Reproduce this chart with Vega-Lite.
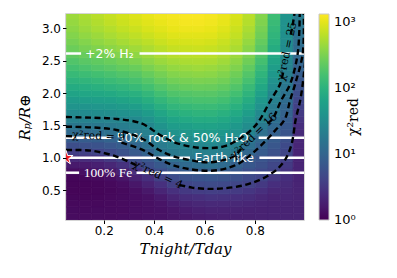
{
"$schema":"https://vega.github.io/schema/vega-lite/v6.json",
"width":238,"height":206,
"padding":{"left":17,"top":14,"right":2,"bottom":2},
"background":"white",
"config":{"view":{"stroke":"#c8c8c8","strokeWidth":1.5},"font":"DejaVu Sans",
"axis":{"domain":false,"grid":false,"tickColor":"black","tickSize":3.5,"tickWidth":1,"labelFont":"DejaVu Sans","labelFontSize":12,"labelColor":"black","labelPadding":2,"titleFont":"DejaVu Serif","titleFontSize":15,"titleFontWeight":"normal","titleFontStyle":"italic","titleColor":"black"},
"axisY":{"titlePadding":9},"axisX":{"titlePadding":5}},
"layer":[
{"data":{"values":[
{"x":0.075,"y":0,"L":0.11},{"x":0.075,"y":0.1,"L":0.09},{"x":0.075,"y":0.2,"L":0.08},{"x":0.075,"y":0.3,"L":0.06},{"x":0.075,"y":0.4,"L":0.05},{"x":0.075,"y":0.5,"L":0.03},{"x":0.075,"y":0.6,"L":0.03},{"x":0.075,"y":0.7,"L":0.04},{"x":0.075,"y":0.8,"L":0.10},{"x":0.075,"y":0.9,"L":0.21},{"x":0.075,"y":1,"L":0.36},{"x":0.075,"y":1.1,"L":0.56},{"x":0.075,"y":1.2,"L":0.73},{"x":0.075,"y":1.3,"L":0.90},{"x":0.075,"y":1.4,"L":1.07},{"x":0.075,"y":1.5,"L":1.23},{"x":0.075,"y":1.6,"L":1.36},{"x":0.075,"y":1.7,"L":1.48},{"x":0.075,"y":1.8,"L":1.60},{"x":0.075,"y":1.9,"L":1.70},{"x":0.075,"y":2,"L":1.81},{"x":0.075,"y":2.1,"L":1.91},{"x":0.075,"y":2.2,"L":2.01},{"x":0.075,"y":2.3,"L":2.10},{"x":0.075,"y":2.4,"L":2.19},{"x":0.075,"y":2.5,"L":2.27},{"x":0.075,"y":2.6,"L":2.35},{"x":0.075,"y":2.7,"L":2.42},{"x":0.075,"y":2.8,"L":2.48},{"x":0.075,"y":2.9,"L":2.54},{"x":0.075,"y":3,"L":2.59},{"x":0.075,"y":3.1,"L":2.63},{"x":0.075,"y":3.2,"L":2.66},
{"x":0.125,"y":0,"L":0.10},{"x":0.125,"y":0.1,"L":0.09},{"x":0.125,"y":0.2,"L":0.07},{"x":0.125,"y":0.3,"L":0.06},{"x":0.125,"y":0.4,"L":0.04},{"x":0.125,"y":0.5,"L":0.03},{"x":0.125,"y":0.6,"L":0.03},{"x":0.125,"y":0.7,"L":0.05},{"x":0.125,"y":0.8,"L":0.11},{"x":0.125,"y":0.9,"L":0.22},{"x":0.125,"y":1,"L":0.38},{"x":0.125,"y":1.1,"L":0.58},{"x":0.125,"y":1.2,"L":0.75},{"x":0.125,"y":1.3,"L":0.91},{"x":0.125,"y":1.4,"L":1.08},{"x":0.125,"y":1.5,"L":1.23},{"x":0.125,"y":1.6,"L":1.37},{"x":0.125,"y":1.7,"L":1.49},{"x":0.125,"y":1.8,"L":1.61},{"x":0.125,"y":1.9,"L":1.73},{"x":0.125,"y":2,"L":1.84},{"x":0.125,"y":2.1,"L":1.94},{"x":0.125,"y":2.2,"L":2.04},{"x":0.125,"y":2.3,"L":2.14},{"x":0.125,"y":2.4,"L":2.23},{"x":0.125,"y":2.5,"L":2.32},{"x":0.125,"y":2.6,"L":2.40},{"x":0.125,"y":2.7,"L":2.48},{"x":0.125,"y":2.8,"L":2.54},{"x":0.125,"y":2.9,"L":2.61},{"x":0.125,"y":3,"L":2.66},{"x":0.125,"y":3.1,"L":2.70},{"x":0.125,"y":3.2,"L":2.73},
{"x":0.175,"y":0,"L":0.10},{"x":0.175,"y":0.1,"L":0.09},{"x":0.175,"y":0.2,"L":0.08},{"x":0.175,"y":0.3,"L":0.06},{"x":0.175,"y":0.4,"L":0.05},{"x":0.175,"y":0.5,"L":0.04},{"x":0.175,"y":0.6,"L":0.04},{"x":0.175,"y":0.7,"L":0.07},{"x":0.175,"y":0.8,"L":0.14},{"x":0.175,"y":0.9,"L":0.26},{"x":0.175,"y":1,"L":0.42},{"x":0.175,"y":1.1,"L":0.62},{"x":0.175,"y":1.2,"L":0.78},{"x":0.175,"y":1.3,"L":0.93},{"x":0.175,"y":1.4,"L":1.10},{"x":0.175,"y":1.5,"L":1.25},{"x":0.175,"y":1.6,"L":1.38},{"x":0.175,"y":1.7,"L":1.51},{"x":0.175,"y":1.8,"L":1.63},{"x":0.175,"y":1.9,"L":1.75},{"x":0.175,"y":2,"L":1.86},{"x":0.175,"y":2.1,"L":1.97},{"x":0.175,"y":2.2,"L":2.08},{"x":0.175,"y":2.3,"L":2.18},{"x":0.175,"y":2.4,"L":2.28},{"x":0.175,"y":2.5,"L":2.36},{"x":0.175,"y":2.6,"L":2.45},{"x":0.175,"y":2.7,"L":2.53},{"x":0.175,"y":2.8,"L":2.60},{"x":0.175,"y":2.9,"L":2.66},{"x":0.175,"y":3,"L":2.72},{"x":0.175,"y":3.1,"L":2.76},{"x":0.175,"y":3.2,"L":2.79},
{"x":0.225,"y":0,"L":0.10},{"x":0.225,"y":0.1,"L":0.09},{"x":0.225,"y":0.2,"L":0.08},{"x":0.225,"y":0.3,"L":0.07},{"x":0.225,"y":0.4,"L":0.06},{"x":0.225,"y":0.5,"L":0.05},{"x":0.225,"y":0.6,"L":0.06},{"x":0.225,"y":0.7,"L":0.10},{"x":0.225,"y":0.8,"L":0.19},{"x":0.225,"y":0.9,"L":0.33},{"x":0.225,"y":1,"L":0.51},{"x":0.225,"y":1.1,"L":0.68},{"x":0.225,"y":1.2,"L":0.84},{"x":0.225,"y":1.3,"L":0.99},{"x":0.225,"y":1.4,"L":1.14},{"x":0.225,"y":1.5,"L":1.27},{"x":0.225,"y":1.6,"L":1.39},{"x":0.225,"y":1.7,"L":1.52},{"x":0.225,"y":1.8,"L":1.65},{"x":0.225,"y":1.9,"L":1.77},{"x":0.225,"y":2,"L":1.89},{"x":0.225,"y":2.1,"L":2.01},{"x":0.225,"y":2.2,"L":2.12},{"x":0.225,"y":2.3,"L":2.22},{"x":0.225,"y":2.4,"L":2.32},{"x":0.225,"y":2.5,"L":2.41},{"x":0.225,"y":2.6,"L":2.50},{"x":0.225,"y":2.7,"L":2.58},{"x":0.225,"y":2.8,"L":2.65},{"x":0.225,"y":2.9,"L":2.72},{"x":0.225,"y":3,"L":2.77},{"x":0.225,"y":3.1,"L":2.82},{"x":0.225,"y":3.2,"L":2.85},
{"x":0.275,"y":0,"L":0.11},{"x":0.275,"y":0.1,"L":0.10},{"x":0.275,"y":0.2,"L":0.09},{"x":0.275,"y":0.3,"L":0.09},{"x":0.275,"y":0.4,"L":0.08},{"x":0.275,"y":0.5,"L":0.07},{"x":0.275,"y":0.6,"L":0.10},{"x":0.275,"y":0.7,"L":0.17},{"x":0.275,"y":0.8,"L":0.29},{"x":0.275,"y":0.9,"L":0.44},{"x":0.275,"y":1,"L":0.63},{"x":0.275,"y":1.1,"L":0.77},{"x":0.275,"y":1.2,"L":0.91},{"x":0.275,"y":1.3,"L":1.05},{"x":0.275,"y":1.4,"L":1.20},{"x":0.275,"y":1.5,"L":1.31},{"x":0.275,"y":1.6,"L":1.43},{"x":0.275,"y":1.7,"L":1.56},{"x":0.275,"y":1.8,"L":1.69},{"x":0.275,"y":1.9,"L":1.81},{"x":0.275,"y":2,"L":1.94},{"x":0.275,"y":2.1,"L":2.05},{"x":0.275,"y":2.2,"L":2.16},{"x":0.275,"y":2.3,"L":2.27},{"x":0.275,"y":2.4,"L":2.37},{"x":0.275,"y":2.5,"L":2.46},{"x":0.275,"y":2.6,"L":2.55},{"x":0.275,"y":2.7,"L":2.63},{"x":0.275,"y":2.8,"L":2.71},{"x":0.275,"y":2.9,"L":2.77},{"x":0.275,"y":3,"L":2.83},{"x":0.275,"y":3.1,"L":2.88},{"x":0.275,"y":3.2,"L":2.91},
{"x":0.325,"y":0,"L":0.12},{"x":0.325,"y":0.1,"L":0.11},{"x":0.325,"y":0.2,"L":0.11},{"x":0.325,"y":0.3,"L":0.10},{"x":0.325,"y":0.4,"L":0.10},{"x":0.325,"y":0.5,"L":0.11},{"x":0.325,"y":0.6,"L":0.18},{"x":0.325,"y":0.7,"L":0.29},{"x":0.325,"y":0.8,"L":0.43},{"x":0.325,"y":0.9,"L":0.61},{"x":0.325,"y":1,"L":0.74},{"x":0.325,"y":1.1,"L":0.87},{"x":0.325,"y":1.2,"L":1.01},{"x":0.325,"y":1.3,"L":1.16},{"x":0.325,"y":1.4,"L":1.26},{"x":0.325,"y":1.5,"L":1.35},{"x":0.325,"y":1.6,"L":1.47},{"x":0.325,"y":1.7,"L":1.60},{"x":0.325,"y":1.8,"L":1.73},{"x":0.325,"y":1.9,"L":1.86},{"x":0.325,"y":2,"L":1.98},{"x":0.325,"y":2.1,"L":2.10},{"x":0.325,"y":2.2,"L":2.21},{"x":0.325,"y":2.3,"L":2.31},{"x":0.325,"y":2.4,"L":2.41},{"x":0.325,"y":2.5,"L":2.51},{"x":0.325,"y":2.6,"L":2.60},{"x":0.325,"y":2.7,"L":2.68},{"x":0.325,"y":2.8,"L":2.76},{"x":0.325,"y":2.9,"L":2.82},{"x":0.325,"y":3,"L":2.88},{"x":0.325,"y":3.1,"L":2.93},{"x":0.325,"y":3.2,"L":2.96},
{"x":0.375,"y":0,"L":0.13},{"x":0.375,"y":0.1,"L":0.13},{"x":0.375,"y":0.2,"L":0.12},{"x":0.375,"y":0.3,"L":0.12},{"x":0.375,"y":0.4,"L":0.13},{"x":0.375,"y":0.5,"L":0.19},{"x":0.375,"y":0.6,"L":0.29},{"x":0.375,"y":0.7,"L":0.42},{"x":0.375,"y":0.8,"L":0.60},{"x":0.375,"y":0.9,"L":0.73},{"x":0.375,"y":1,"L":0.85},{"x":0.375,"y":1.1,"L":0.98},{"x":0.375,"y":1.2,"L":1.14},{"x":0.375,"y":1.3,"L":1.26},{"x":0.375,"y":1.4,"L":1.34},{"x":0.375,"y":1.5,"L":1.44},{"x":0.375,"y":1.6,"L":1.57},{"x":0.375,"y":1.7,"L":1.70},{"x":0.375,"y":1.8,"L":1.83},{"x":0.375,"y":1.9,"L":1.95},{"x":0.375,"y":2,"L":2.07},{"x":0.375,"y":2.1,"L":2.18},{"x":0.375,"y":2.2,"L":2.29},{"x":0.375,"y":2.3,"L":2.39},{"x":0.375,"y":2.4,"L":2.49},{"x":0.375,"y":2.5,"L":2.58},{"x":0.375,"y":2.6,"L":2.66},{"x":0.375,"y":2.7,"L":2.74},{"x":0.375,"y":2.8,"L":2.81},{"x":0.375,"y":2.9,"L":2.88},{"x":0.375,"y":3,"L":2.94},{"x":0.375,"y":3.1,"L":2.98},{"x":0.375,"y":3.2,"L":3.01},
{"x":0.425,"y":0,"L":0.14},{"x":0.425,"y":0.1,"L":0.14},{"x":0.425,"y":0.2,"L":0.14},{"x":0.425,"y":0.3,"L":0.16},{"x":0.425,"y":0.4,"L":0.21},{"x":0.425,"y":0.5,"L":0.31},{"x":0.425,"y":0.6,"L":0.43},{"x":0.425,"y":0.7,"L":0.60},{"x":0.425,"y":0.8,"L":0.73},{"x":0.425,"y":0.9,"L":0.86},{"x":0.425,"y":1,"L":1.00},{"x":0.425,"y":1.1,"L":1.18},{"x":0.425,"y":1.2,"L":1.28},{"x":0.425,"y":1.3,"L":1.36},{"x":0.425,"y":1.4,"L":1.46},{"x":0.425,"y":1.5,"L":1.59},{"x":0.425,"y":1.6,"L":1.72},{"x":0.425,"y":1.7,"L":1.83},{"x":0.425,"y":1.8,"L":1.95},{"x":0.425,"y":1.9,"L":2.06},{"x":0.425,"y":2,"L":2.17},{"x":0.425,"y":2.1,"L":2.28},{"x":0.425,"y":2.2,"L":2.38},{"x":0.425,"y":2.3,"L":2.47},{"x":0.425,"y":2.4,"L":2.56},{"x":0.425,"y":2.5,"L":2.65},{"x":0.425,"y":2.6,"L":2.73},{"x":0.425,"y":2.7,"L":2.80},{"x":0.425,"y":2.8,"L":2.87},{"x":0.425,"y":2.9,"L":2.93},{"x":0.425,"y":3,"L":2.98},{"x":0.425,"y":3.1,"L":3.02},{"x":0.425,"y":3.2,"L":3.05},
{"x":0.475,"y":0,"L":0.17},{"x":0.475,"y":0.1,"L":0.17},{"x":0.475,"y":0.2,"L":0.18},{"x":0.475,"y":0.3,"L":0.23},{"x":0.475,"y":0.4,"L":0.31},{"x":0.475,"y":0.5,"L":0.43},{"x":0.475,"y":0.6,"L":0.58},{"x":0.475,"y":0.7,"L":0.71},{"x":0.475,"y":0.8,"L":0.84},{"x":0.475,"y":0.9,"L":0.97},{"x":0.475,"y":1,"L":1.15},{"x":0.475,"y":1.1,"L":1.26},{"x":0.475,"y":1.2,"L":1.35},{"x":0.475,"y":1.3,"L":1.46},{"x":0.475,"y":1.4,"L":1.59},{"x":0.475,"y":1.5,"L":1.71},{"x":0.475,"y":1.6,"L":1.82},{"x":0.475,"y":1.7,"L":1.94},{"x":0.475,"y":1.8,"L":2.05},{"x":0.475,"y":1.9,"L":2.15},{"x":0.475,"y":2,"L":2.26},{"x":0.475,"y":2.1,"L":2.35},{"x":0.475,"y":2.2,"L":2.45},{"x":0.475,"y":2.3,"L":2.54},{"x":0.475,"y":2.4,"L":2.62},{"x":0.475,"y":2.5,"L":2.70},{"x":0.475,"y":2.6,"L":2.78},{"x":0.475,"y":2.7,"L":2.85},{"x":0.475,"y":2.8,"L":2.91},{"x":0.475,"y":2.9,"L":2.97},{"x":0.475,"y":3,"L":3.02},{"x":0.475,"y":3.1,"L":3.05},{"x":0.475,"y":3.2,"L":3.08},
{"x":0.525,"y":0,"L":0.20},{"x":0.525,"y":0.1,"L":0.20},{"x":0.525,"y":0.2,"L":0.23},{"x":0.525,"y":0.3,"L":0.29},{"x":0.525,"y":0.4,"L":0.39},{"x":0.525,"y":0.5,"L":0.51},{"x":0.525,"y":0.6,"L":0.65},{"x":0.525,"y":0.7,"L":0.78},{"x":0.525,"y":0.8,"L":0.90},{"x":0.525,"y":0.9,"L":1.06},{"x":0.525,"y":1,"L":1.22},{"x":0.525,"y":1.1,"L":1.31},{"x":0.525,"y":1.2,"L":1.40},{"x":0.525,"y":1.3,"L":1.52},{"x":0.525,"y":1.4,"L":1.64},{"x":0.525,"y":1.5,"L":1.76},{"x":0.525,"y":1.6,"L":1.88},{"x":0.525,"y":1.7,"L":1.99},{"x":0.525,"y":1.8,"L":2.09},{"x":0.525,"y":1.9,"L":2.20},{"x":0.525,"y":2,"L":2.29},{"x":0.525,"y":2.1,"L":2.39},{"x":0.525,"y":2.2,"L":2.48},{"x":0.525,"y":2.3,"L":2.57},{"x":0.525,"y":2.4,"L":2.65},{"x":0.525,"y":2.5,"L":2.73},{"x":0.525,"y":2.6,"L":2.80},{"x":0.525,"y":2.7,"L":2.87},{"x":0.525,"y":2.8,"L":2.93},{"x":0.525,"y":2.9,"L":2.99},{"x":0.525,"y":3,"L":3.04},{"x":0.525,"y":3.1,"L":3.08},{"x":0.525,"y":3.2,"L":3.10},
{"x":0.575,"y":0,"L":0.22},{"x":0.575,"y":0.1,"L":0.23},{"x":0.575,"y":0.2,"L":0.26},{"x":0.575,"y":0.3,"L":0.33},{"x":0.575,"y":0.4,"L":0.42},{"x":0.575,"y":0.5,"L":0.55},{"x":0.575,"y":0.6,"L":0.68},{"x":0.575,"y":0.7,"L":0.81},{"x":0.575,"y":0.8,"L":0.93},{"x":0.575,"y":0.9,"L":1.11},{"x":0.575,"y":1,"L":1.25},{"x":0.575,"y":1.1,"L":1.34},{"x":0.575,"y":1.2,"L":1.44},{"x":0.575,"y":1.3,"L":1.56},{"x":0.575,"y":1.4,"L":1.68},{"x":0.575,"y":1.5,"L":1.80},{"x":0.575,"y":1.6,"L":1.91},{"x":0.575,"y":1.7,"L":2.02},{"x":0.575,"y":1.8,"L":2.12},{"x":0.575,"y":1.9,"L":2.22},{"x":0.575,"y":2,"L":2.31},{"x":0.575,"y":2.1,"L":2.41},{"x":0.575,"y":2.2,"L":2.50},{"x":0.575,"y":2.3,"L":2.59},{"x":0.575,"y":2.4,"L":2.67},{"x":0.575,"y":2.5,"L":2.74},{"x":0.575,"y":2.6,"L":2.81},{"x":0.575,"y":2.7,"L":2.88},{"x":0.575,"y":2.8,"L":2.94},{"x":0.575,"y":2.9,"L":2.99},{"x":0.575,"y":3,"L":3.04},{"x":0.575,"y":3.1,"L":3.08},{"x":0.575,"y":3.2,"L":3.10},
{"x":0.625,"y":0,"L":0.24},{"x":0.625,"y":0.1,"L":0.25},{"x":0.625,"y":0.2,"L":0.29},{"x":0.625,"y":0.3,"L":0.35},{"x":0.625,"y":0.4,"L":0.45},{"x":0.625,"y":0.5,"L":0.57},{"x":0.625,"y":0.6,"L":0.70},{"x":0.625,"y":0.7,"L":0.83},{"x":0.625,"y":0.8,"L":0.95},{"x":0.625,"y":0.9,"L":1.14},{"x":0.625,"y":1,"L":1.26},{"x":0.625,"y":1.1,"L":1.35},{"x":0.625,"y":1.2,"L":1.46},{"x":0.625,"y":1.3,"L":1.58},{"x":0.625,"y":1.4,"L":1.69},{"x":0.625,"y":1.5,"L":1.80},{"x":0.625,"y":1.6,"L":1.91},{"x":0.625,"y":1.7,"L":2.02},{"x":0.625,"y":1.8,"L":2.12},{"x":0.625,"y":1.9,"L":2.22},{"x":0.625,"y":2,"L":2.31},{"x":0.625,"y":2.1,"L":2.40},{"x":0.625,"y":2.2,"L":2.49},{"x":0.625,"y":2.3,"L":2.58},{"x":0.625,"y":2.4,"L":2.65},{"x":0.625,"y":2.5,"L":2.73},{"x":0.625,"y":2.6,"L":2.80},{"x":0.625,"y":2.7,"L":2.86},{"x":0.625,"y":2.8,"L":2.92},{"x":0.625,"y":2.9,"L":2.98},{"x":0.625,"y":3,"L":3.02},{"x":0.625,"y":3.1,"L":3.06},{"x":0.625,"y":3.2,"L":3.08},
{"x":0.675,"y":0,"L":0.25},{"x":0.675,"y":0.1,"L":0.26},{"x":0.675,"y":0.2,"L":0.29},{"x":0.675,"y":0.3,"L":0.35},{"x":0.675,"y":0.4,"L":0.44},{"x":0.675,"y":0.5,"L":0.56},{"x":0.675,"y":0.6,"L":0.68},{"x":0.675,"y":0.7,"L":0.80},{"x":0.675,"y":0.8,"L":0.92},{"x":0.675,"y":0.9,"L":1.08},{"x":0.675,"y":1,"L":1.24},{"x":0.675,"y":1.1,"L":1.33},{"x":0.675,"y":1.2,"L":1.42},{"x":0.675,"y":1.3,"L":1.54},{"x":0.675,"y":1.4,"L":1.65},{"x":0.675,"y":1.5,"L":1.77},{"x":0.675,"y":1.6,"L":1.87},{"x":0.675,"y":1.7,"L":1.98},{"x":0.675,"y":1.8,"L":2.08},{"x":0.675,"y":1.9,"L":2.18},{"x":0.675,"y":2,"L":2.27},{"x":0.675,"y":2.1,"L":2.36},{"x":0.675,"y":2.2,"L":2.45},{"x":0.675,"y":2.3,"L":2.53},{"x":0.675,"y":2.4,"L":2.61},{"x":0.675,"y":2.5,"L":2.68},{"x":0.675,"y":2.6,"L":2.75},{"x":0.675,"y":2.7,"L":2.82},{"x":0.675,"y":2.8,"L":2.87},{"x":0.675,"y":2.9,"L":2.93},{"x":0.675,"y":3,"L":2.97},{"x":0.675,"y":3.1,"L":3.01},{"x":0.675,"y":3.2,"L":3.03},
{"x":0.725,"y":0,"L":0.26},{"x":0.725,"y":0.1,"L":0.26},{"x":0.725,"y":0.2,"L":0.29},{"x":0.725,"y":0.3,"L":0.34},{"x":0.725,"y":0.4,"L":0.42},{"x":0.725,"y":0.5,"L":0.53},{"x":0.725,"y":0.6,"L":0.64},{"x":0.725,"y":0.7,"L":0.75},{"x":0.725,"y":0.8,"L":0.85},{"x":0.725,"y":0.9,"L":0.95},{"x":0.725,"y":1,"L":1.12},{"x":0.725,"y":1.1,"L":1.25},{"x":0.725,"y":1.2,"L":1.34},{"x":0.725,"y":1.3,"L":1.45},{"x":0.725,"y":1.4,"L":1.56},{"x":0.725,"y":1.5,"L":1.67},{"x":0.725,"y":1.6,"L":1.78},{"x":0.725,"y":1.7,"L":1.88},{"x":0.725,"y":1.8,"L":1.98},{"x":0.725,"y":1.9,"L":2.08},{"x":0.725,"y":2,"L":2.18},{"x":0.725,"y":2.1,"L":2.27},{"x":0.725,"y":2.2,"L":2.36},{"x":0.725,"y":2.3,"L":2.44},{"x":0.725,"y":2.4,"L":2.52},{"x":0.725,"y":2.5,"L":2.59},{"x":0.725,"y":2.6,"L":2.66},{"x":0.725,"y":2.7,"L":2.73},{"x":0.725,"y":2.8,"L":2.78},{"x":0.725,"y":2.9,"L":2.84},{"x":0.725,"y":3,"L":2.88},{"x":0.725,"y":3.1,"L":2.92},{"x":0.725,"y":3.2,"L":2.94},
{"x":0.775,"y":0,"L":0.27},{"x":0.775,"y":0.1,"L":0.27},{"x":0.775,"y":0.2,"L":0.28},{"x":0.775,"y":0.3,"L":0.32},{"x":0.775,"y":0.4,"L":0.39},{"x":0.775,"y":0.5,"L":0.48},{"x":0.775,"y":0.6,"L":0.60},{"x":0.775,"y":0.7,"L":0.68},{"x":0.775,"y":0.8,"L":0.76},{"x":0.775,"y":0.9,"L":0.85},{"x":0.775,"y":1,"L":0.93},{"x":0.775,"y":1.1,"L":1.03},{"x":0.775,"y":1.2,"L":1.14},{"x":0.775,"y":1.3,"L":1.26},{"x":0.775,"y":1.4,"L":1.40},{"x":0.775,"y":1.5,"L":1.51},{"x":0.775,"y":1.6,"L":1.62},{"x":0.775,"y":1.7,"L":1.73},{"x":0.775,"y":1.8,"L":1.83},{"x":0.775,"y":1.9,"L":1.93},{"x":0.775,"y":2,"L":2.02},{"x":0.775,"y":2.1,"L":2.11},{"x":0.775,"y":2.2,"L":2.20},{"x":0.775,"y":2.3,"L":2.28},{"x":0.775,"y":2.4,"L":2.36},{"x":0.775,"y":2.5,"L":2.44},{"x":0.775,"y":2.6,"L":2.51},{"x":0.775,"y":2.7,"L":2.57},{"x":0.775,"y":2.8,"L":2.63},{"x":0.775,"y":2.9,"L":2.69},{"x":0.775,"y":3,"L":2.73},{"x":0.775,"y":3.1,"L":2.77},{"x":0.775,"y":3.2,"L":2.79},
{"x":0.825,"y":0,"L":0.28},{"x":0.825,"y":0.1,"L":0.28},{"x":0.825,"y":0.2,"L":0.28},{"x":0.825,"y":0.3,"L":0.30},{"x":0.825,"y":0.4,"L":0.34},{"x":0.825,"y":0.5,"L":0.42},{"x":0.825,"y":0.6,"L":0.51},{"x":0.825,"y":0.7,"L":0.62},{"x":0.825,"y":0.8,"L":0.68},{"x":0.825,"y":0.9,"L":0.75},{"x":0.825,"y":1,"L":0.82},{"x":0.825,"y":1.1,"L":0.89},{"x":0.825,"y":1.2,"L":0.95},{"x":0.825,"y":1.3,"L":1.05},{"x":0.825,"y":1.4,"L":1.15},{"x":0.825,"y":1.5,"L":1.26},{"x":0.825,"y":1.6,"L":1.37},{"x":0.825,"y":1.7,"L":1.47},{"x":0.825,"y":1.8,"L":1.58},{"x":0.825,"y":1.9,"L":1.67},{"x":0.825,"y":2,"L":1.77},{"x":0.825,"y":2.1,"L":1.86},{"x":0.825,"y":2.2,"L":1.95},{"x":0.825,"y":2.3,"L":2.03},{"x":0.825,"y":2.4,"L":2.11},{"x":0.825,"y":2.5,"L":2.19},{"x":0.825,"y":2.6,"L":2.26},{"x":0.825,"y":2.7,"L":2.32},{"x":0.825,"y":2.8,"L":2.38},{"x":0.825,"y":2.9,"L":2.44},{"x":0.825,"y":3,"L":2.48},{"x":0.825,"y":3.1,"L":2.52},{"x":0.825,"y":3.2,"L":2.54},
{"x":0.875,"y":0,"L":0.29},{"x":0.875,"y":0.1,"L":0.29},{"x":0.875,"y":0.2,"L":0.29},{"x":0.875,"y":0.3,"L":0.29},{"x":0.875,"y":0.4,"L":0.30},{"x":0.875,"y":0.5,"L":0.34},{"x":0.875,"y":0.6,"L":0.41},{"x":0.875,"y":0.7,"L":0.50},{"x":0.875,"y":0.8,"L":0.61},{"x":0.875,"y":0.9,"L":0.66},{"x":0.875,"y":1,"L":0.72},{"x":0.875,"y":1.1,"L":0.78},{"x":0.875,"y":1.2,"L":0.84},{"x":0.875,"y":1.3,"L":0.89},{"x":0.875,"y":1.4,"L":0.95},{"x":0.875,"y":1.5,"L":1.05},{"x":0.875,"y":1.6,"L":1.14},{"x":0.875,"y":1.7,"L":1.22},{"x":0.875,"y":1.8,"L":1.28},{"x":0.875,"y":1.9,"L":1.35},{"x":0.875,"y":2,"L":1.41},{"x":0.875,"y":2.1,"L":1.50},{"x":0.875,"y":2.2,"L":1.58},{"x":0.875,"y":2.3,"L":1.66},{"x":0.875,"y":2.4,"L":1.73},{"x":0.875,"y":2.5,"L":1.81},{"x":0.875,"y":2.6,"L":1.87},{"x":0.875,"y":2.7,"L":1.93},{"x":0.875,"y":2.8,"L":1.99},{"x":0.875,"y":2.9,"L":2.04},{"x":0.875,"y":3,"L":2.08},{"x":0.875,"y":3.1,"L":2.12},{"x":0.875,"y":3.2,"L":2.14},
{"x":0.925,"y":0,"L":0.30},{"x":0.925,"y":0.1,"L":0.30},{"x":0.925,"y":0.2,"L":0.30},{"x":0.925,"y":0.3,"L":0.30},{"x":0.925,"y":0.4,"L":0.32},{"x":0.925,"y":0.5,"L":0.34},{"x":0.925,"y":0.6,"L":0.37},{"x":0.925,"y":0.7,"L":0.41},{"x":0.925,"y":0.8,"L":0.46},{"x":0.925,"y":0.9,"L":0.52},{"x":0.925,"y":1,"L":0.59},{"x":0.925,"y":1.1,"L":0.64},{"x":0.925,"y":1.2,"L":0.69},{"x":0.925,"y":1.3,"L":0.75},{"x":0.925,"y":1.4,"L":0.80},{"x":0.925,"y":1.5,"L":0.85},{"x":0.925,"y":1.6,"L":0.90},{"x":0.925,"y":1.7,"L":0.96},{"x":0.925,"y":1.8,"L":1.02},{"x":0.925,"y":1.9,"L":1.09},{"x":0.925,"y":2,"L":1.16},{"x":0.925,"y":2.1,"L":1.22},{"x":0.925,"y":2.2,"L":1.27},{"x":0.925,"y":2.3,"L":1.32},{"x":0.925,"y":2.4,"L":1.37},{"x":0.925,"y":2.5,"L":1.42},{"x":0.925,"y":2.6,"L":1.45},{"x":0.925,"y":2.7,"L":1.49},{"x":0.925,"y":2.8,"L":1.52},{"x":0.925,"y":2.9,"L":1.54},{"x":0.925,"y":3,"L":1.57},{"x":0.925,"y":3.1,"L":1.58},{"x":0.925,"y":3.2,"L":1.60},
{"x":0.975,"y":0,"L":0.30},{"x":0.975,"y":0.1,"L":0.30},{"x":0.975,"y":0.2,"L":0.30},{"x":0.975,"y":0.3,"L":0.30},{"x":0.975,"y":0.4,"L":0.30},{"x":0.975,"y":0.5,"L":0.30},{"x":0.975,"y":0.6,"L":0.30},{"x":0.975,"y":0.7,"L":0.30},{"x":0.975,"y":0.8,"L":0.30},{"x":0.975,"y":0.9,"L":0.30},{"x":0.975,"y":1,"L":0.30},{"x":0.975,"y":1.1,"L":0.30},{"x":0.975,"y":1.2,"L":0.32},{"x":0.975,"y":1.3,"L":0.34},{"x":0.975,"y":1.4,"L":0.37},{"x":0.975,"y":1.5,"L":0.41},{"x":0.975,"y":1.6,"L":0.46},{"x":0.975,"y":1.7,"L":0.52},{"x":0.975,"y":1.8,"L":0.59},{"x":0.975,"y":1.9,"L":0.66},{"x":0.975,"y":2,"L":0.72},{"x":0.975,"y":2.1,"L":0.78},{"x":0.975,"y":2.2,"L":0.84},{"x":0.975,"y":2.3,"L":0.90},{"x":0.975,"y":2.4,"L":0.96},{"x":0.975,"y":2.5,"L":1.00},{"x":0.975,"y":2.6,"L":1.04},{"x":0.975,"y":2.7,"L":1.08},{"x":0.975,"y":2.8,"L":1.12},{"x":0.975,"y":2.9,"L":1.16},{"x":0.975,"y":3,"L":1.20},{"x":0.975,"y":3.1,"L":1.24},{"x":0.975,"y":3.2,"L":1.28}
]},
"mark":{"type":"rect","clip":true,"stroke":{"expr":"scale('color', datum.L)"},"strokeWidth":0.7},
"encoding":{
"x":{"field":"x","type":"quantitative","bin":{"step":0.05,"extent":[0.05,1.0],"nice":false},"scale":{"domain":[0.05,0.995],"nice":false,"zero":false},"axis":{"title":"Tnight/Tday","values":[0.2,0.4,0.6,0.8],"format":".1f"}},
"y":{"field":"y","type":"quantitative","bin":{"step":0.1,"extent":[-0.05,3.25],"nice":false},"scale":{"domain":[0.04,3.22],"nice":false,"zero":false},"axis":{"title":"Rₚ/R⊕","values":[0.5,1,1.5,2,2.5,3],"format":".1f"}},
"color":{"field":"L","type":"quantitative","scale":{"scheme":"viridis","domain":[0,3.12]},"legend":{"type":"gradient","title":"χ²red","orient":"right","offset":15,"direction":"vertical","gradientLength":206,"gradientThickness":10,"values":[0,1,2,3],"labelExpr":"datum.value == 0 ? '10⁰' : datum.value == 1 ? '10¹' : datum.value == 2 ? '10²' : '10³'","labelFont":"DejaVu Sans","labelFontSize":13,"labelColor":"black","labelOffset":5,"titleFont":"DejaVu Serif","titleFontSize":14,"titleFontWeight":"normal","titleColor":"black","titleOrient":"right","gradientStrokeColor":"#c8c8c8","gradientStrokeWidth":1,"encode":{"labels":{"update":{"baseline":{"value":"middle"}}},"title":{"update":{"angle":{"value":-90}}}}}}
}},
{"data":{"values":[
{"y":2.61,"x1":0.05,"x2":0.11},{"y":2.61,"x1":0.342,"x2":1.0},
{"y":1.31,"x1":0.05,"x2":0.23},{"y":1.31,"x1":0.815,"x2":1.0},
{"y":1.0,"x1":0.05,"x2":0.542},{"y":1.0,"x1":0.818,"x2":1.0},
{"y":0.77,"x1":0.05,"x2":0.102},{"y":0.77,"x1":0.33,"x2":1.0}
]},
"mark":{"type":"rule","color":"white","strokeWidth":2.5,"clip":true},
"encoding":{"x":{"field":"x1","type":"quantitative"},"x2":{"field":"x2"},"y":{"field":"y","type":"quantitative"}}},
{"data":{"values":[
{"t":"+2% H₂","x":0.222,"y":2.61},{"t":"50% rock & 50% H₂O","x":0.513,"y":1.31},{"t":"Earth-like","x":0.678,"y":1.0}
]},
"mark":{"type":"text","color":"white","font":"DejaVu Sans","fontSize":12.5,"align":"center","baseline":"middle"},
"encoding":{"x":{"field":"x","type":"quantitative"},"y":{"field":"y","type":"quantitative"},"text":{"field":"t"}}},
{"data":{"values":[{"t":"100% Fe","x":0.217,"y":0.77}]},
"mark":{"type":"text","color":"white","font":"Liberation Serif","fontSize":13.5,"align":"center","baseline":"middle"},
"encoding":{"x":{"field":"x","type":"quantitative"},"y":{"field":"y","type":"quantitative"},"text":{"field":"t"}}},
{"data":{"values":[
{"c":"25a","i":0,"x":0.05,"y":1.63},{"c":"25a","i":1,"x":0.15,"y":1.62},{"c":"25a","i":2,"x":0.25,"y":1.60},{"c":"25a","i":3,"x":0.35,"y":1.53},{"c":"25a","i":4,"x":0.42,"y":1.36},{"c":"25a","i":5,"x":0.48,"y":1.24},{"c":"25a","i":6,"x":0.55,"y":1.17},{"c":"25a","i":7,"x":0.62,"y":1.15},{"c":"25a","i":8,"x":0.68,"y":1.18},{"c":"25a","i":9,"x":0.73,"y":1.27},{"c":"25a","i":10,"x":0.77,"y":1.38},{"c":"25a","i":11,"x":0.80,"y":1.49},{"c":"25a","i":12,"x":0.82,"y":1.59},{"c":"25a","i":13,"x":0.86,"y":1.87},{"c":"25a","i":14,"x":0.90,"y":2.14},{"c":"25a","i":15,"x":0.915,"y":2.38},
{"c":"25b","i":0,"x":0.942,"y":2.9},{"c":"25b","i":1,"x":0.95,"y":3.05},{"c":"25b","i":2,"x":0.958,"y":3.25},
{"c":"16a","i":0,"x":0.05,"y":1.48},{"c":"16a","i":1,"x":0.15,"y":1.47},{"c":"16a","i":2,"x":0.25,"y":1.43},{"c":"16a","i":3,"x":0.35,"y":1.30},{"c":"16a","i":4,"x":0.42,"y":1.12},{"c":"16a","i":5,"x":0.48,"y":1.02},{"c":"16a","i":6,"x":0.55,"y":0.96},{"c":"16a","i":7,"x":0.61,"y":0.93},{"c":"16a","i":8,"x":0.67,"y":0.96},{"c":"16a","i":9,"x":0.72,"y":1.03},{"c":"16a","i":10,"x":0.745,"y":1.14},
{"c":"16b","i":0,"x":0.85,"y":1.53},{"c":"16b","i":1,"x":0.87,"y":1.60},{"c":"16b","i":2,"x":0.905,"y":1.89},{"c":"16b","i":3,"x":0.94,"y":2.14},{"c":"16b","i":4,"x":0.97,"y":2.61},{"c":"16b","i":5,"x":0.978,"y":3.25},
{"c":"9a","i":0,"x":0.05,"y":1.335},{"c":"9a","i":1,"x":0.09,"y":1.33},
{"c":"9b","i":0,"x":0.27,"y":1.234},{"c":"9b","i":1,"x":0.35,"y":1.13},{"c":"9b","i":2,"x":0.42,"y":0.98},{"c":"9b","i":3,"x":0.48,"y":0.88},{"c":"9b","i":4,"x":0.55,"y":0.82},{"c":"9b","i":5,"x":0.62,"y":0.80},{"c":"9b","i":6,"x":0.68,"y":0.83},{"c":"9b","i":7,"x":0.74,"y":0.92},{"c":"9b","i":8,"x":0.79,"y":1.07},{"c":"9b","i":9,"x":0.84,"y":1.25},{"c":"9b","i":10,"x":0.88,"y":1.42},{"c":"9b","i":11,"x":0.918,"y":1.59},{"c":"9b","i":12,"x":0.94,"y":1.89},{"c":"9b","i":13,"x":0.96,"y":2.14},{"c":"9b","i":14,"x":0.99,"y":2.61},{"c":"9b","i":15,"x":0.994,"y":3.25},
{"c":"4a","i":0,"x":0.05,"y":1.12},{"c":"4a","i":1,"x":0.15,"y":1.11},{"c":"4a","i":2,"x":0.25,"y":1.02},{"c":"4a","i":3,"x":0.33,"y":0.884},
{"c":"4b","i":0,"x":0.50,"y":0.583},{"c":"4b","i":1,"x":0.55,"y":0.54},{"c":"4b","i":2,"x":0.62,"y":0.52},{"c":"4b","i":3,"x":0.68,"y":0.53},{"c":"4b","i":4,"x":0.75,"y":0.57},{"c":"4b","i":5,"x":0.80,"y":0.63},{"c":"4b","i":6,"x":0.85,"y":0.72},{"c":"4b","i":7,"x":0.89,"y":0.83},{"c":"4b","i":8,"x":0.92,"y":0.97},{"c":"4b","i":9,"x":0.945,"y":1.2},{"c":"4b","i":10,"x":0.962,"y":1.59},{"c":"4b","i":11,"x":0.98,"y":1.89},{"c":"4b","i":12,"x":0.99,"y":2.14},{"c":"4b","i":13,"x":1.0,"y":2.5}
]},
"mark":{"type":"line","color":"black","strokeWidth":2.4,"strokeDash":[6,3.5],"interpolate":"catmull-rom","clip":true},
"encoding":{"x":{"field":"x","type":"quantitative"},"y":{"field":"y","type":"quantitative"},"detail":{"field":"c"},"order":{"field":"i","type":"quantitative"}}},
{"data":{"values":[{"t":"χ²red = 4","x":0.415,"y":0.735}]},
"mark":{"type":"text","color":"black","font":"DejaVu Serif","fontSize":11,"angle":25,"align":"center","baseline":"middle"},
"encoding":{"x":{"field":"x","type":"quantitative"},"y":{"field":"y","type":"quantitative"},"text":{"field":"t"}}},
{"data":{"values":[{"t":"χ²red = 16","x":0.797,"y":1.335}]},
"mark":{"type":"text","color":"black","font":"DejaVu Serif","fontSize":11,"angle":-44,"align":"center","baseline":"middle"},
"encoding":{"x":{"field":"x","type":"quantitative"},"y":{"field":"y","type":"quantitative"},"text":{"field":"t"}}},
{"data":{"values":[{"t":"χ²red = 25","x":0.9285,"y":2.64}]},
"mark":{"type":"text","color":"black","font":"DejaVu Serif","fontSize":11,"angle":-78,"align":"center","baseline":"middle"},
"encoding":{"x":{"field":"x","type":"quantitative"},"y":{"field":"y","type":"quantitative"},"text":{"field":"t"}}},
{"data":{"values":[{"t":"χ²red = 9","x":0.18,"y":1.33}]},
"mark":{"type":"text","color":"black","font":"DejaVu Serif","fontSize":11,"angle":3,"align":"center","baseline":"middle"},
"encoding":{"x":{"field":"x","type":"quantitative"},"y":{"field":"y","type":"quantitative"},"text":{"field":"t"}}},
{"data":{"values":[{"x":0.05,"y":1.0}]},
"mark":{"type":"point","shape":"M0,-1L0.2245,-0.309L0.951,-0.309L0.363,0.118L0.588,0.809L0,0.382L-0.588,0.809L-0.363,0.118L-0.951,-0.309L-0.2245,-0.309Z","filled":true,"fill":"#ee1c25","stroke":"white","strokeWidth":1,"size":220,"opacity":1,"clip":true},
"encoding":{"x":{"field":"x","type":"quantitative"},"y":{"field":"y","type":"quantitative"}}}
]
}
